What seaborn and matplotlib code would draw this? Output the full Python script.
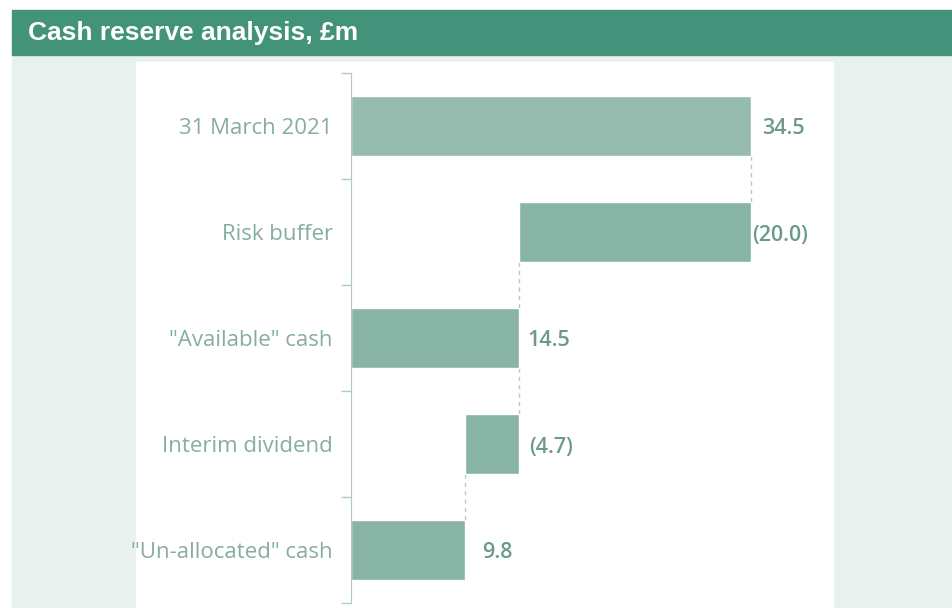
import numpy as np
import matplotlib.pyplot as plt
import seaborn as sns
from matplotlib.patches import Rectangle

# Data
categories = ['31 March 2021', 'Risk buffer', '"Available" cash', 'Interim dividend', '"Un-allocated" cash']
values = [34.5, -20.0, 14.5, -4.7, 9.8]
is_total = [True, False, True, False, True]
value_labels = ['34.5', '(20.0)', '14.5', '(4.7)', '9.8']

sns.set_style("white")
plt.rcParams['font.family'] = ['Open Sans', 'DejaVu Sans']

bar_light = '#96bcb0'
bar_color = '#88b4a6'
text_color = '#86ad9f'
value_color = '#6b9a8b'
line_color = '#b3cac1'

# waterfall positions
lefts, widths, ends = [], [], []
running = 0.0
for v, tot in zip(values, is_total):
    if tot:
        lefts.append(0.0)
        widths.append(v)
        running = v
    else:
        new = running + v
        lefts.append(min(running, new))
        widths.append(abs(v))
        running = new
    ends.append(lefts[-1] + widths[-1])

fig = plt.figure(figsize=(9.52, 6.08), dpi=100)
W, H = 952, 608

def box(x0, y0, x1, y1, color):
    fig.patches.append(Rectangle((x0 / W, 1 - y1 / H), (x1 - x0) / W, (y1 - y0) / H,
                                 transform=fig.transFigure, color=color, zorder=-5))

box(12, 55, 952, 608, '#e9f1ee')
box(136, 62, 833, 608, 'white')
box(12, 10, 952, 55, '#43937b')
fig.text(28 / W, 1 - 33 / H, 'Cash reserve analysis, £m', color='white', fontsize=19,
         fontweight='bold', family=['Liberation Sans', 'DejaVu Sans'], va='center', ha='left')

ax = fig.add_axes([351 / W, 1 - 603 / H, (833 - 351) / W, (603 - 73) / H])
ax.set_zorder(2)
ax.set_facecolor('none')
y = np.arange(len(categories))
colors = [bar_light] + [bar_color] * (len(categories) - 1)
ax.barh(y, widths, left=lefts, height=0.56, color=colors, zorder=2)

# dashed connectors
for i in range(len(categories) - 1):
    xc = ends[i]
    if not is_total[i] and is_total[i + 1]:
        xc = lefts[i]
    ax.plot([xc, xc], [i + 0.28, i + 1 - 0.28], ls=(0, (3, 3)), color=line_color, lw=1, zorder=1)

offsets = [11, 1, 8, 10, 18]
for i in range(len(categories)):
    ax.annotate(value_labels[i], (ends[i], i), xytext=(offsets[i], -3), textcoords='offset pixels',
                va='center', ha='left', fontsize=15.5, fontweight='semibold', color=value_color)

ax.set_xlim(0, (833 - 353) / ((751 - 353) / 34.5))
ax.set_ylim(len(categories) - 0.5, -0.5)
ax.set_yticks(y)
ax.set_yticklabels(categories, fontsize=16, color=text_color)
ax.set_yticks(np.arange(-0.5, len(categories)), minor=True)
ax.tick_params(axis='y', which='major', length=0, pad=13)
ax.tick_params(axis='y', which='minor', left=True, length=7, color=line_color, width=1)
ax.set_xticks([])
for s in ['top', 'right', 'bottom']:
    ax.spines[s].set_visible(False)
ax.spines['left'].set_color(line_color)

fig.savefig('out.png', dpi=100)
